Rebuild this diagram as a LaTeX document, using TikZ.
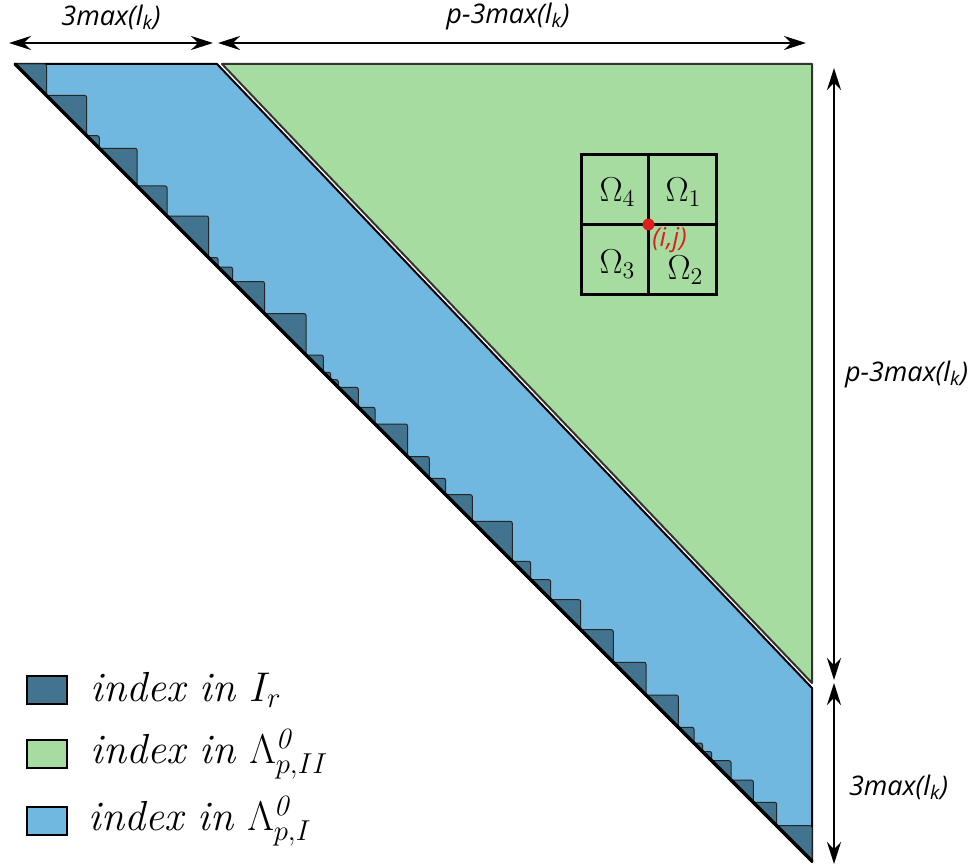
\documentclass[tikz,border=0pt]{standalone}
\usepackage{fontspec}
\newfontfamily\etiq{Open Sans}
\usetikzlibrary{arrows.meta,positioning,calc}
\definecolor{azulo}{HTML}{42738F}
\definecolor{azulc}{HTML}{70B8E0}
\definecolor{verde}{HTML}{A6DCA0}
\definecolor{rojo}{HTML}{DD1E1E}
\tikzset{
  cota/.style={{Stealth[length=11pt,width=7pt]}-{Stealth[length=11pt,width=7pt]},line width=1pt},
  rotulo/.style={font=\etiq\itshape\fontsize{13.5}{15}\selectfont,inner sep=0pt},
  escalon/.style={fill=azulo,draw=black!85,line width=0.5pt,rounded corners=1pt},
  caja/.style={draw=black,line width=1.3pt,minimum width=20pt,minimum height=14pt,inner sep=0pt},
  leyenda/.style={font=\fontsize{21}{25}\selectfont,inner sep=0pt,anchor=west},
  omega/.style={font=\fontsize{17}{19}\selectfont,inner sep=0pt}
}

\begin{document}
\begin{tikzpicture}[x=0.5pt,y=-0.5pt]
  \useasboundingbox (0,0) rectangle (978,866);
  % zonas
  \filldraw[fill=azulc,draw=black,line width=1pt,line join=round]
    (15,64) -- (217,64) -- (812,688) -- (812,862) -- cycle;
  \filldraw[fill=verde,draw=black!80,line width=1pt,line join=round]
    (222,64) -- (812,64) -- (812,683) -- cycle;
  % escalones de I_r
  \foreach \a/\b in {15/46.5,46.5/86.7,86.7/99.3,99.3/137,137/167,167/208.5,
      208.5/218,218/232.5,232.5/264.5,264.5/306,306/323.3,323.3/330.7,
      330.7/338.3,338.3/358.3,358.3/375,375/407.5,407.5/429.3,429.3/445.7,
      445.7/472.3,472.3/512.3,512.3/530.7,530.7/550.7,550.7/580.7,580.7/613.3,
      613.3/646,646/678.3,678.3/694,694/702.5,702.5/711.7,711.7/731,
      731/753.3,753.3/776.7,776.7/812}
    \filldraw[escalon] (\a,{\a+49}) -- (\b,{\a+49}) -- (\b,{\b+49}) -- cycle;
  \draw[line width=1.6pt,line cap=round] (15,64) -- (812,861);
  % vecindad de (i,j)
  \node[draw,line width=1.5pt,minimum width=67.5pt,minimum height=69.5pt] (cuad) at (648.5,224.5) {};
  \draw[line width=1.5pt] (cuad.north) -- (cuad.south);
  \draw[line width=1.5pt] (cuad.west) -- (cuad.east);
  \fill[rojo] (cuad.center) circle (3pt);
  \node[omega] (o4) at ($(cuad.center)+(-31,-32)$) {$\Omega_4$};
  \node[omega] (o1) at ($(cuad.center)+(35,-32)$) {$\Omega_1$};
  \node[omega] (o3) at ($(cuad.center)+(-31,40)$) {$\Omega_3$};
  \node[omega] (o2) at ($(cuad.center)+(37,46)$) {$\Omega_2$};
  \node[rotulo,text=rojo,font=\etiq\itshape\fontsize{13}{15}\selectfont] (ij) at ($(cuad.center)+(21,16)$) {(i,j)};
  % cotas
  \coordinate (h0) at (9,43);
  \coordinate (h1) at (213,43);
  \coordinate (h2) at (218,43);
  \coordinate (h3) at (806,43);
  \coordinate (v0) at (834,68);
  \coordinate (v1) at (834,680);
  \coordinate (v2) at (834,683);
  \coordinate (v3) at (834,864);
  \draw[cota] (h0) -- (h1) node[rotulo,midway,above=6pt] (c1) {3max(l\textsubscript{k})};
  \draw[cota] (h2) -- (h3) node[rotulo,midway,above=6pt,xshift=-2pt] (c2) {p-3max(l\textsubscript{k})};
  \draw[cota] (v0) -- (v1) node[rotulo,midway,right=5pt] (c3) {p-3max(l\textsubscript{k})};
  \draw[cota] (v2) -- (v3) node[rotulo,midway,right=7pt,yshift=-7pt] (c4) {3max(l\textsubscript{k})};
  % leyenda
  \node[caja,fill=azulo] (lir) at (47,690) {};
  \node[caja,fill=verde] (lii) at (47,754) {};
  \node[caja,fill=azulc] (li) at (47,821) {};
  \node[leyenda,right=11pt of lir] (tir) {\textit{index in} $I_r$};
  \node[leyenda,right=11pt of lii] (tii) {\textit{index in} $\Lambda^{\mathit{0}}_{p,II}$};
  \node[leyenda,right=10pt of li] (ti) {\textit{index in} $\Lambda^{\mathit{0}}_{p,I}$};
\end{tikzpicture}
\end{document}
